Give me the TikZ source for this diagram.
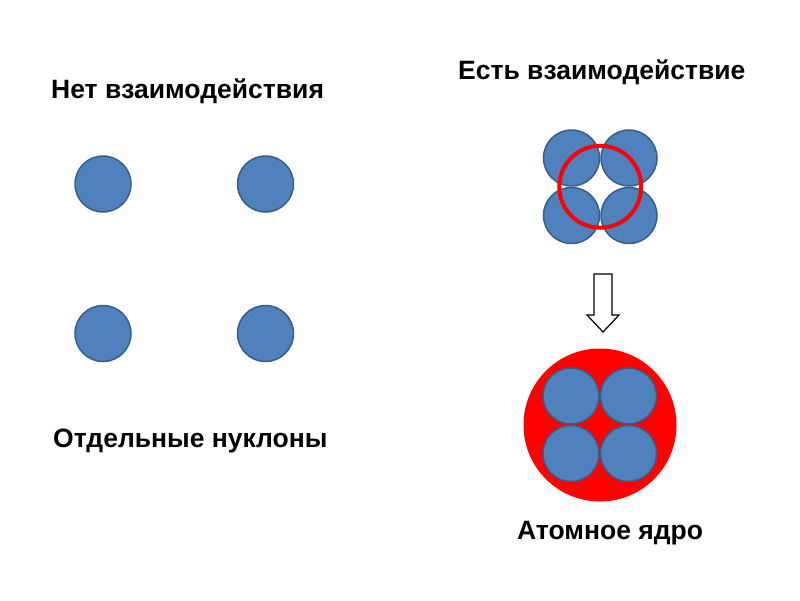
\documentclass[tikz,border=0pt]{standalone}
\usepackage{fontspec}
\setmainfont{Liberation Sans}
\usetikzlibrary{positioning,calc}
\definecolor{nucblue}{HTML}{4F81BD}
\definecolor{nucedge}{HTML}{385D8A}
\tikzset{
  nucleon/.style={
    circle, draw=nucedge, fill=nucblue, line width=1.5pt,
    minimum size=56pt, inner sep=0pt
  },
  bondring/.style={circle, draw=red, line width=4pt, minimum size=82pt, inner sep=0pt},
  nucleus/.style={circle, fill=red, minimum size=153pt, inner sep=0pt},
  caption/.style={anchor=base west, inner sep=0pt, font=\fontsize{26.5}{30}\selectfont\bfseries},
  hollowarrow/.style={draw=black, fill=white, line width=1.2pt, line join=miter},
}

\begin{document}
\begin{tikzpicture}[x=1pt, y=-1pt]
  \useasboundingbox (0,0) rectangle (800,600);
  % captions
  \node (t1) [caption] at (51,98) {Нет взаимодействия};
  \node (t2) [caption] at (458,79) {Есть взаимодействие};
  \node (t3) [caption] at (53,447) {Отдельные нуклоны};
  \node (t4) [caption] at (517,539) {Атомное ядро};
  % free nucleons
  \node (n1) [nucleon] at (103,184) {};
  \node (n2) [nucleon, right=105pt of n1] {};
  \node (n3) [nucleon, below=92pt of n1] {};
  \node (n4) [nucleon, below=92pt of n2] {};
  % interacting nucleons
  \node (a1) [nucleon] at (571.5,158) {};
  \node (a2) [nucleon, right=0pt of a1] {};
  \node (a3) [nucleon, below=0pt of a1] {};
  \node (a4) [nucleon, right=0pt of a3] {};
  \node (ring) [bondring] at ($(a1)!0.5!(a4)$) {};
  % arrow
  \draw[hollowarrow] (594,274) -- (612,274) -- (612,315) -- (619,315)
    -- (603,332) -- (587,315) -- (594,315) -- cycle;
  % nucleus
  \node (core) [nucleus] at (600,425) {};
  \node (b1) [nucleon] at ($(core)+(-29,-29)$) {};
  \node (b2) [nucleon, right=0pt of b1] {};
  \node (b3) [nucleon, below=0pt of b1] {};
  \node (b4) [nucleon, right=0pt of b3] {};
\end{tikzpicture}
\end{document}
